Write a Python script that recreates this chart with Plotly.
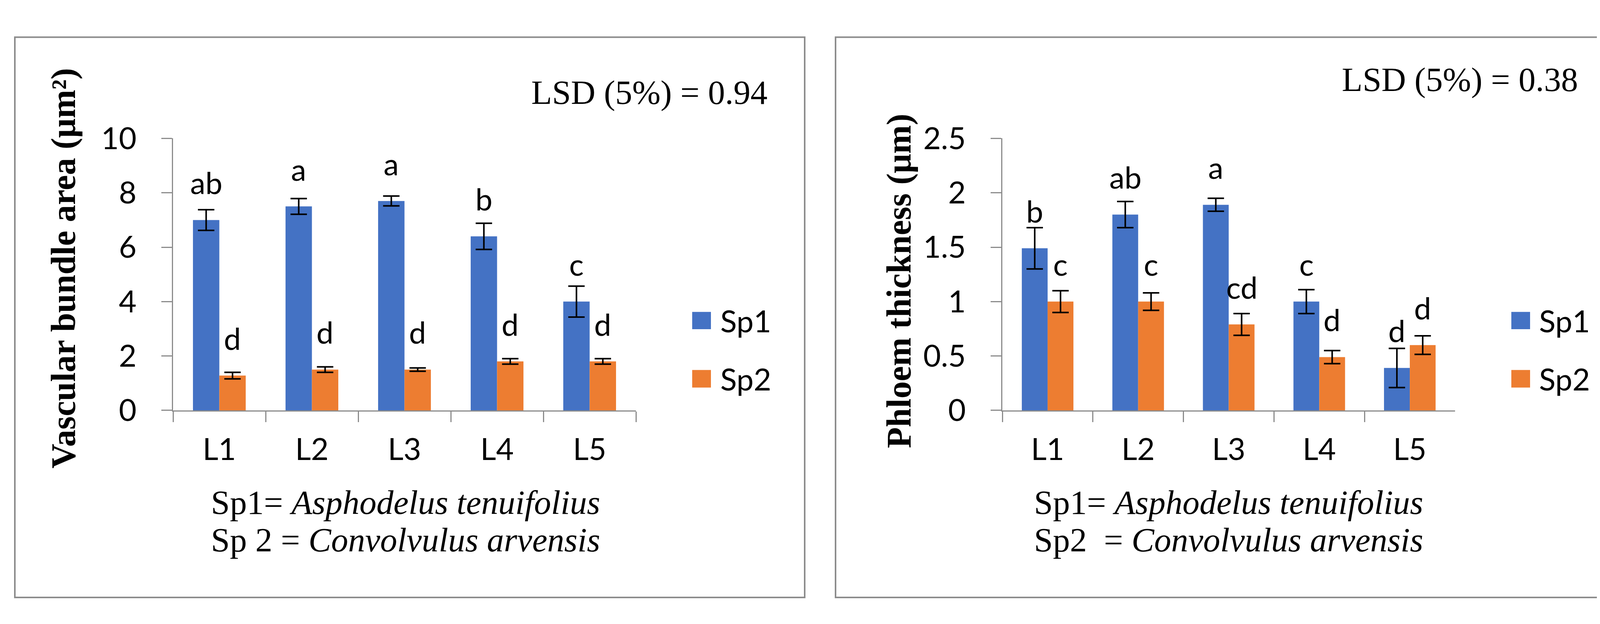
import plotly.graph_objects as go

# ---------------- data ----------------
categories = ["L1", "L2", "L3", "L4", "L5"]
series_names = ["Sp1", "Sp2"]

# Left panel: Vascular bundle area (µm²)
vb_sp1 = [7.0, 7.5, 7.7, 6.4, 4.0]
vb_sp1_err = [0.38, 0.29, 0.18, 0.48, 0.57]
vb_sp2 = [1.28, 1.5, 1.5, 1.8, 1.8]
vb_sp2_err = [0.12, 0.10, 0.06, 0.10, 0.10]
vb_sp1_letters = ["ab", "a", "a", "b", "c"]
vb_sp2_letters = ["d", "d", "d", "d", "d"]
vb_yticks = [0, 2, 4, 6, 8, 10]
vb_lsd = "LSD (5%) = 0.94"
vb_title = "Vascular bundle area (μm²)"

# Right panel: Phloem thickness (µm)
ph_sp1 = [1.49, 1.8, 1.89, 1.0, 0.39]
ph_sp1_err = [0.19, 0.12, 0.06, 0.11, 0.18]
ph_sp2 = [1.0, 1.0, 0.79, 0.49, 0.6]
ph_sp2_err = [0.10, 0.08, 0.10, 0.06, 0.085]
ph_sp1_letters = ["b", "ab", "a", "c", "d"]
ph_sp2_letters = ["c", "c", "cd", "d", "d"]
ph_yticks = [0, 0.5, 1, 1.5, 2, 2.5]
ph_lsd = "LSD (5%) = 0.38"
ph_title = "Phloem thickness (μm)"

# ---------------- styling ----------------
W, H = 4181, 1598
BLUE = "#4472C4"
ORANGE = "#ED7D31"
GREY = "#8c8c8c"
SANS = "Lato, Open Sans, sans-serif"
SERIF = "Liberation Serif, Times New Roman, serif"
BARGAP = 0.43
TICK_FS = 78
SERIF_FS = 87


def px(x):
    return x / W


def py(y):
    return 1 - y / H


fig = go.Figure()

panels = [
    dict(xa="x", ya="y", s1=vb_sp1, e1=vb_sp1_err, s2=vb_sp2, e2=vb_sp2_err,
         l1=vb_sp1_letters, l2=vb_sp2_letters),
    dict(xa="x2", ya="y2", s1=ph_sp1, e1=ph_sp1_err, s2=ph_sp2, e2=ph_sp2_err,
         l1=ph_sp1_letters, l2=ph_sp2_letters),
]

annotations = []
half = (1 - BARGAP) / 4.0  # offset of each bar centre from category centre

for p in panels:
    for name, vals, errs, color, letters, sign in [
        (series_names[0], p["s1"], p["e1"], BLUE, p["l1"], -1),
        (series_names[1], p["s2"], p["e2"], ORANGE, p["l2"], 1),
    ]:
        fig.add_trace(go.Bar(
            x=categories, y=vals, name=name, xaxis=p["xa"], yaxis=p["ya"],
            marker=dict(color=color, line=dict(width=0)),
            error_y=dict(type="data", array=errs, visible=True, color="black",
                         thickness=4, width=21),
            showlegend=False,
        ))
        for i, (v, lab) in enumerate(zip(vals, letters)):
            annotations.append(dict(
                x=i + sign * half, y=v, xref=p["xa"], yref=p["ya"],
                text=lab, showarrow=False, yanchor="bottom", xanchor="center",
                yshift=47, font=dict(family=SANS, size=TICK_FS, color="black"),
            ))

axis_common = dict(
    showline=True, linecolor=GREY, linewidth=3, ticks="outside",
    ticklen=27, tickwidth=3, tickcolor=GREY, showgrid=False, zeroline=False,
    tickfont=dict(family=SANS, size=TICK_FS, color="black"),
)

fig.update_layout(
    width=W, height=H, autosize=False,
    margin=dict(l=0, r=0, t=0, b=0, pad=0),
    paper_bgcolor="white", plot_bgcolor="white",
    barmode="group", bargap=BARGAP, bargroupgap=0,
    showlegend=False,
    xaxis=dict(domain=[px(435), px(1620)], anchor="y", type="category",
               range=[-0.5, 4.5], tickson="boundaries", ticklabelstandoff=30,
               **axis_common),
    yaxis=dict(domain=[py(1055), py(315)], anchor="x", range=[0, 10],
               tickvals=vb_yticks, ticklabelstandoff=48, **axis_common),
    xaxis2=dict(domain=[px(2558), px(3717)], anchor="y2", type="category",
                range=[-0.5, 4.5], tickson="boundaries", ticklabelstandoff=30,
                **axis_common),
    yaxis2=dict(domain=[py(1055), py(315)], anchor="x2", range=[0, 2.5],
                tickvals=ph_yticks, ticklabelstandoff=48, **axis_common),
)

# y-axis titles (rotated)
annotations.append(dict(
    x=px(155), y=py(668), xref="paper", yref="paper", textangle=-90,
    text=vb_title, showarrow=False, xanchor="center", yanchor="middle",
    font=dict(family=SERIF, size=88, color="black", weight="bold")))
annotations.append(dict(
    x=px(2294), y=py(703), xref="paper", yref="paper", textangle=-90,
    text=ph_title, showarrow=False, xanchor="center", yanchor="middle",
    font=dict(family=SERIF, size=88, color="black", weight="bold")))

# LSD texts
annotations.append(dict(
    x=px(1350), y=py(190), xref="paper", yref="paper", text=vb_lsd,
    showarrow=False, xanchor="left", yanchor="middle",
    font=dict(family=SERIF, size=SERIF_FS, color="black")))
annotations.append(dict(
    x=px(3425), y=py(155), xref="paper", yref="paper", text=ph_lsd,
    showarrow=False, xanchor="left", yanchor="middle",
    font=dict(family=SERIF, size=SERIF_FS, color="black")))

# species captions
captions = [
    (530, "Sp1= <i>Asphodelus tenuifolius</i>", "Sp 2 = <i>Convolvulus arvensis</i>"),
    (2637, "Sp1= <i>Asphodelus tenuifolius</i>", "Sp2  = <i>Convolvulus arvensis</i>"),
]
for x0, line1, line2 in captions:
    for yy, t in [(1305, line1), (1407, line2)]:
        annotations.append(dict(
            x=px(x0), y=py(yy), xref="paper", yref="paper", text=t,
            showarrow=False, xanchor="left", yanchor="middle",
            font=dict(family=SERIF, size=SERIF_FS, color="black")))

shapes = []
# panel borders
for x0, x1 in [(30, 2052), (2131, 4153)]:
    shapes.append(dict(type="rect", xref="paper", yref="paper",
                       x0=px(x0), x1=px(x1), y0=py(1564), y1=py(39.5),
                       line=dict(color=GREY, width=4), fillcolor="rgba(0,0,0,0)"))

# manual legends (large square swatches)
for sq_x, txt_x in [(1764, 1834), (3861, 3930)]:
    for (y0, y1), color, name in [((787, 834), BLUE, series_names[0]),
                                  ((945, 993), ORANGE, series_names[1])]:
        shapes.append(dict(type="rect", xref="paper", yref="paper",
                           x0=px(sq_x), x1=px(sq_x + 48), y0=py(y1), y1=py(y0),
                           line=dict(width=0), fillcolor=color))
        annotations.append(dict(
            x=px(txt_x), y=py((y0 + y1) / 2), xref="paper", yref="paper",
            text=name, showarrow=False, xanchor="left", yanchor="middle",
            font=dict(family=SANS, size=TICK_FS, color="black")))

fig.update_layout(annotations=annotations, shapes=shapes)

fig.write_html("out.html")
